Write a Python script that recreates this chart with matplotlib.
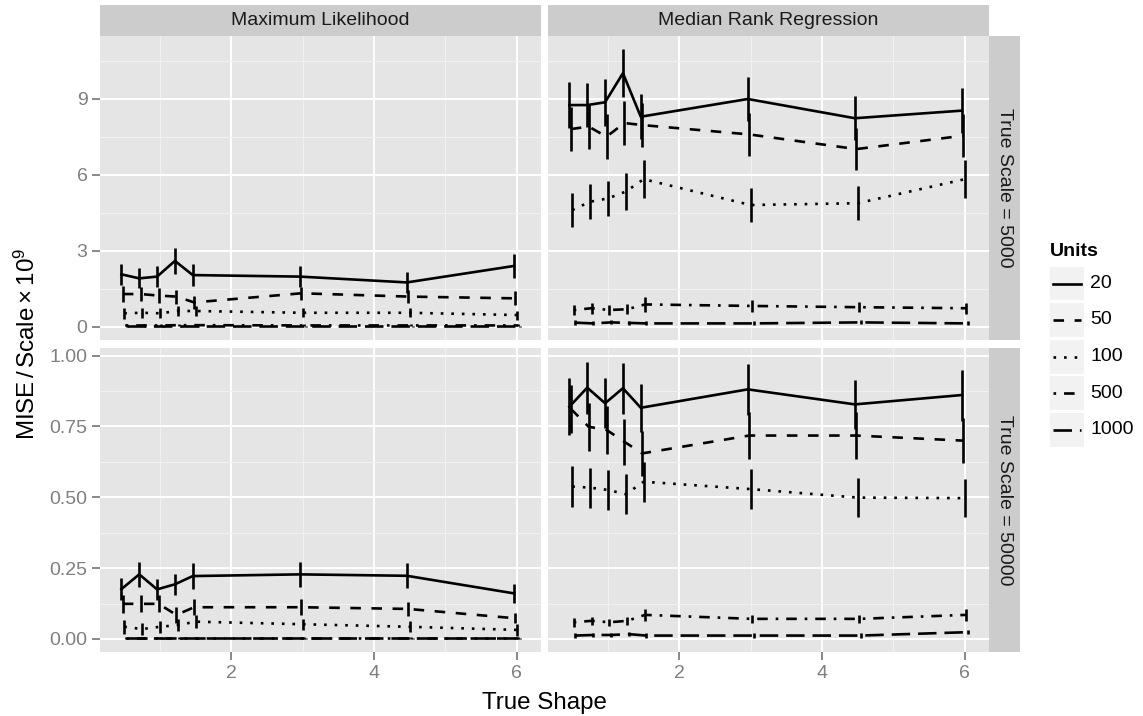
import matplotlib.pyplot as plt

plt.rcParams['font.family'] = 'Liberation Sans'
plt.rcParams['mathtext.fontset'] = 'custom'
plt.rcParams['mathtext.rm'] = 'Liberation Sans'
plt.rcParams['mathtext.it'] = 'Liberation Sans:italic'

# data
shape = [0.5, 0.75, 1, 1.25, 1.5, 3, 4.5, 6]
units = ['20', '50', '100', '500', '1000']
methods = ['Maximum Likelihood', 'Median Rank Regression']
scales = ['True Scale = 5000', 'True Scale = 50000']

# one row per Units level (20, 50, 100, 500, 1000)
ml_5000 = [
    [2.07, 1.91, 1.98, 2.60, 2.04, 1.98, 1.75, 2.40],
    [1.29, 1.29, 1.23, 1.19, 0.96, 1.32, 1.19, 1.12],
    [0.53, 0.55, 0.53, 0.62, 0.62, 0.55, 0.55, 0.46],
    [0.05, 0.05, 0.05, 0.06, 0.06, 0.05, 0.05, 0.05],
    [0.01, 0.01, 0.01, 0.01, 0.01, 0.01, 0.01, 0.01],
]
ml_5000_err = [
    [0.41, 0.40, 0.41, 0.50, 0.43, 0.41, 0.41, 0.47],
    [0.30, 0.29, 0.28, 0.28, 0.27, 0.25, 0.26, 0.28],
    [0.21, 0.20, 0.20, 0.20, 0.20, 0.18, 0.18, 0.18],
    [0.04, 0.04, 0.04, 0.04, 0.04, 0.04, 0.04, 0.04],
    [0.02, 0.02, 0.02, 0.02, 0.02, 0.02, 0.02, 0.02],
]
mrr_5000 = [
    [8.76, 8.76, 8.87, 10.02, 8.30, 9.00, 8.24, 8.54],
    [7.81, 7.91, 7.51, 8.05, 7.97, 7.60, 7.02, 7.55],
    [4.61, 4.94, 5.07, 5.34, 5.83, 4.81, 4.88, 5.83],
    [0.66, 0.73, 0.66, 0.69, 0.88, 0.82, 0.77, 0.73],
    [0.16, 0.13, 0.17, 0.15, 0.13, 0.13, 0.17, 0.13],
]
mrr_5000_err = [
    [0.92, 0.87, 0.92, 0.95, 0.89, 0.86, 0.86, 0.88],
    [0.86, 0.87, 0.88, 0.87, 0.86, 0.86, 0.82, 0.85],
    [0.67, 0.70, 0.70, 0.74, 0.74, 0.68, 0.67, 0.74],
    [0.20, 0.22, 0.18, 0.20, 0.28, 0.22, 0.20, 0.22],
    [0.10, 0.08, 0.08, 0.08, 0.08, 0.08, 0.08, 0.08],
]
ml_50000 = [
    [0.176, 0.228, 0.175, 0.193, 0.222, 0.228, 0.223, 0.161],
    [0.124, 0.124, 0.124, 0.085, 0.112, 0.112, 0.106, 0.073],
    [0.043, 0.035, 0.043, 0.049, 0.061, 0.052, 0.043, 0.032],
    [0.004, 0.004, 0.004, 0.004, 0.004, 0.004, 0.004, 0.004],
    [0.002, 0.002, 0.002, 0.002, 0.002, 0.002, 0.002, 0.002],
]
ml_50000_err = [
    [0.038, 0.045, 0.036, 0.037, 0.045, 0.045, 0.044, 0.034],
    [0.032, 0.030, 0.030, 0.028, 0.028, 0.028, 0.026, 0.018],
    [0.024, 0.022, 0.022, 0.022, 0.022, 0.020, 0.020, 0.020],
    [0.004, 0.004, 0.004, 0.004, 0.004, 0.004, 0.004, 0.004],
    [0.002, 0.002, 0.002, 0.002, 0.002, 0.002, 0.002, 0.002],
]
mrr_50000 = [
    [0.820, 0.887, 0.832, 0.885, 0.816, 0.881, 0.828, 0.861],
    [0.812, 0.749, 0.738, 0.696, 0.655, 0.718, 0.718, 0.700],
    [0.538, 0.534, 0.526, 0.511, 0.555, 0.529, 0.499, 0.497],
    [0.059, 0.064, 0.059, 0.064, 0.085, 0.071, 0.071, 0.085],
    [0.012, 0.014, 0.014, 0.017, 0.012, 0.012, 0.012, 0.024],
]
mrr_50000_err = [
    [0.100, 0.092, 0.089, 0.090, 0.085, 0.090, 0.087, 0.090],
    [0.085, 0.085, 0.085, 0.082, 0.080, 0.082, 0.082, 0.080],
    [0.072, 0.070, 0.070, 0.070, 0.070, 0.070, 0.068, 0.068],
    [0.015, 0.015, 0.012, 0.015, 0.020, 0.015, 0.015, 0.020],
    [0.008, 0.008, 0.008, 0.008, 0.008, 0.008, 0.008, 0.008],
]

# styling
W, H = 1143, 716
LW = 1.9
styles = ['-', (0, (4, 4)), (0, (1, 3)), (0, (1, 3, 4, 3)), (0, (7, 3))]
dodge = [-0.04, -0.02, 0.0, 0.02, 0.04]
grey_text = '#7F7F7F'
panel_bg = '#E5E5E5'
strip_bg = '#CCCCCC'


def frac(x0, y0, x1, y1):
    # pixel box (top-left origin) -> figure fraction rect
    return [x0 / W, 1 - y1 / H, (x1 - x0) / W, (y1 - y0) / H]


def draw_panel(ax, means, errs):
    for k in range(len(units)):
        xs = [s + dodge[k] for s in shape]
        lo = [m - e for m, e in zip(means[k], errs[k])]
        hi = [m + e for m, e in zip(means[k], errs[k])]
        ax.plot(xs, means[k], color='black', lw=LW, linestyle=styles[k])
        ax.vlines(xs, lo, hi, color='black', lw=LW)


fig = plt.figure(figsize=(W / 100, H / 100), dpi=100)

col_x = [(100, 541), (548, 989)]
row_y = [(36, 340), (348, 652)]
panel_data = [[(ml_5000, ml_5000_err), (mrr_5000, mrr_5000_err)],
              [(ml_50000, ml_50000_err), (mrr_50000, mrr_50000_err)]]
ylims = [(-0.526, 11.49), (-0.046, 1.027)]
yticks = [[0, 3, 6, 9], [0, 0.25, 0.5, 0.75, 1.0]]
yminor = [[1.5, 4.5, 7.5, 10.5], [0.125, 0.375, 0.625, 0.875]]
ylabels = [['0', '3', '6', '9'], ['0.00', '0.25', '0.50', '0.75', '1.00']]

for r in range(2):
    for c in range(2):
        ax = fig.add_axes(frac(col_x[c][0], row_y[r][0], col_x[c][1], row_y[r][1]))
        ax.set_facecolor(panel_bg)
        for sp in ax.spines.values():
            sp.set_visible(False)
        ax.set_axisbelow(True)
        ax.set_xlim(0.16, 6.34)
        ax.set_ylim(*ylims[r])
        ax.set_xticks([2, 4, 6])
        ax.set_xticks([1, 3, 5], minor=True)
        ax.set_yticks(yticks[r])
        ax.set_yticks(yminor[r], minor=True)
        ax.set_yticklabels(ylabels[r])
        ax.grid(which='major', color='white', lw=1.4)
        ax.grid(which='minor', color='#F2F2F2', lw=0.7)
        ax.tick_params(which='minor', length=0)
        ax.tick_params(which='major', length=6, width=1.3, color=grey_text,
                       labelcolor=grey_text, labelsize=14, pad=3)
        if r == 0:
            ax.tick_params(axis='x', length=0, labelbottom=False)
        if c == 1:
            ax.tick_params(axis='y', length=0, labelleft=False)
        means, errs = panel_data[r][c]
        draw_panel(ax, means, errs)

# strips
for c in range(2):
    sax = fig.add_axes(frac(col_x[c][0], 5, col_x[c][1], 36))
    sax.set_facecolor(strip_bg)
    sax.set_xticks([])
    sax.set_yticks([])
    for sp in sax.spines.values():
        sp.set_visible(False)
    sax.text(0.5, 0.5, methods[c], ha='center', va='center', fontsize=14,
             color='#1A1A1A', transform=sax.transAxes)

for r in range(2):
    sax = fig.add_axes(frac(989, row_y[r][0], 1020, row_y[r][1]))
    sax.set_facecolor(strip_bg)
    sax.set_xticks([])
    sax.set_yticks([])
    for sp in sax.spines.values():
        sp.set_visible(False)
    sax.text(0.5, 0.5, scales[r], ha='center', va='center', fontsize=14,
             color='#1A1A1A', rotation=-90, transform=sax.transAxes)

# axis titles
fig.text(544.5 / W, 1 - 709 / H, 'True Shape', ha='center', va='baseline',
         fontsize=17.4)
fig.text(27 / W, 1 - 344 / H, r'$\mathrm{MISE}\,/\,\mathrm{Scale}\times10^{9}$',
         ha='center', va='center', rotation=90, fontsize=17.4)

# legend
fig.text(1050 / W, 1 - 251 / H, 'Units', ha='left', va='center',
         fontsize=14, fontweight='bold')
for k, u in enumerate(units):
    top = 266.5 + k * 36.5
    kax = fig.add_axes(frac(1050, top, 1084, top + 34))
    kax.set_facecolor('#F2F2F2')
    kax.set_xticks([])
    kax.set_yticks([])
    for sp in kax.spines.values():
        sp.set_visible(False)
    kax.set_xlim(0, 1)
    kax.set_ylim(0, 1)
    kax.plot([0.08, 0.92], [0.5, 0.5], color='black', lw=LW, linestyle=styles[k])
    fig.text(1090 / W, 1 - (top + 17) / H, u, ha='left', va='center', fontsize=14)

fig.savefig('out.png', dpi=100)
